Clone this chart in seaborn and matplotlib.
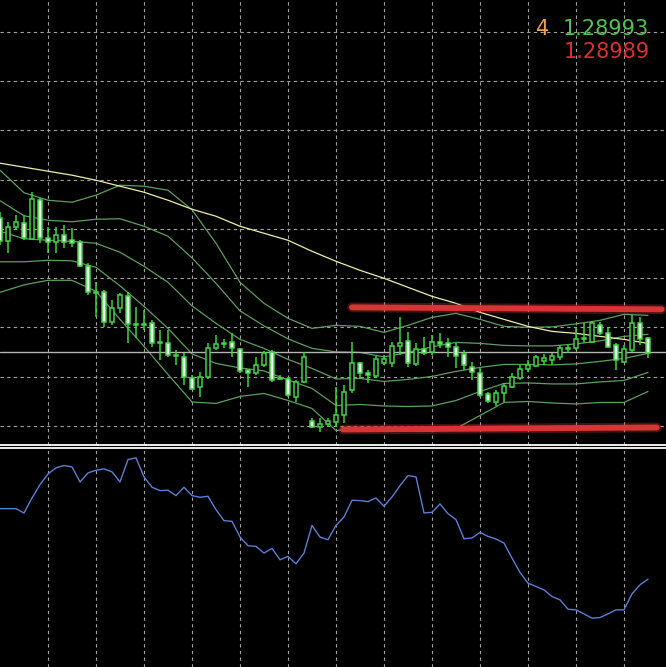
import matplotlib
matplotlib.use('Agg')
import matplotlib.pyplot as plt
import numpy as np
import pandas as pd
import seaborn as sns

# candle data, prices in points (1 point = 0.00001)
opens = [129264, 129218, 129246, 129254, 129222, 129300, 129224, 129216, 129230, 129220,
         129216, 129168, 129116, 129116, 129056, 129084, 129108, 129052, 129052, 129054,
         129016, 129014, 128990, 128986, 128944, 128926, 128946, 129004, 129014, 129016,
         129002, 128960, 128954, 128970, 128996, 128944, 128942, 128906, 128936, 128858,
         128846, 128852, 128856, 128870, 128920, 128974, 128954, 128948, 128974, 128974,
         129008, 129018, 128972, 129002, 128996, 129016, 129014, 129006, 128992, 128966,
         128954, 128912, 128896, 128914, 128926, 128944, 128962, 128968, 128978, 128980,
         128986, 129004, 129004, 129024, 129016, 129050, 129034, 129010, 128976, 129000,
         129054, 129024]
highs = [129276, 129256, 129270, 129270, 129316, 129304, 129246, 129246, 129250, 129244,
         129220, 129174, 129136, 129120, 129100, 129114, 129116, 129086, 129080, 129060,
         129040, 129040, 129000, 128994, 128950, 128956, 129014, 129030, 129022, 129034,
         129004, 128960, 128986, 128998, 129000, 128950, 128946, 128940, 128996, 128864,
         128864, 128864, 128926, 128930, 129016, 128976, 128960, 128988, 128990, 129016,
         129066, 129036, 129014, 129026, 129030, 129034, 129024, 129014, 129000, 128976,
         128964, 128916, 128920, 128934, 128954, 128970, 128980, 128990, 128992, 128994,
         129010, 129010, 129044, 129054, 129058, 129056, 129046, 129014, 129010, 129070,
         129066, 129026]
lows = [129210, 129194, 129240, 129220, 129220, 129214, 129194, 129194, 129204, 129206,
        129166, 129110, 129066, 129046, 129050, 129074, 129014, 129024, 129040, 129006,
        128980, 128986, 128970, 128930, 128920, 128906, 128942, 129000, 129004, 128986,
        128954, 128926, 128950, 128966, 128936, 128940, 128906, 128896, 128934, 128844,
        128836, 128846, 128846, 128854, 128914, 128944, 128934, 128944, 128970, 128966,
        128990, 128966, 128968, 128990, 128990, 129004, 128986, 128964, 128960, 128940,
        128906, 128894, 128888, 128896, 128924, 128940, 128956, 128966, 128970, 128970,
        128980, 128994, 129000, 129014, 129014, 129030, 129004, 128960, 128974, 128996,
        129010, 128984]
closes = [129218, 129246, 129256, 129224, 129302, 129224, 129216, 129230, 129216, 129214,
          129168, 129116, 129114, 129056, 129084, 129110, 129052, 129050, 129050, 129014,
          129014, 128990, 128988, 128946, 128922, 128946, 129004, 129012, 129012, 129004,
          128958, 128954, 128970, 128994, 128940, 128942, 128910, 128936, 128986, 128846,
          128852, 128858, 128870, 128916, 128974, 128954, 128950, 128982, 128982, 129008,
          129014, 128974, 129002, 128994, 129016, 129012, 129006, 128988, 128970, 128956,
          128910, 128898, 128914, 128928, 128946, 128962, 128970, 128986, 128984, 128988,
          129004, 129002, 129022, 129022, 129054, 129034, 129006, 128980, 129002, 129054,
          129022, 128994]

# indicator lines, read every 3 bars
band_bars = list(range(0, 82, 3))
bb_up2 = [129360, 129315, 129300, 129296, 129310, 129330, 129328, 129320, 129281, 129214,
          129136, 129094, 129064, 129044, 129050, 129048, 129036, 129050, 129066, 129074,
          129062, 129048, 129046, 129047, 129053, 129060, 129072, 129070]
bb_up1 = [129299, 129269, 129260, 129257, 129262, 129263, 129248, 129228, 129185, 129134,
          129079, 129049, 129023, 129004, 128997, 128996, 128987, 128996, 129007, 129016,
          129014, 129010, 129009, 129009, 129013, 129019, 129028, 129032]
bb_mid = [129238, 129223, 129220, 129218, 129214, 129196, 129168, 129136, 129089, 129054,
          129022, 129004, 128982, 128964, 128943, 128944, 128938, 128942, 128948, 128958,
          128966, 128972, 128972, 128971, 128973, 128978, 128984, 128994]
bb_lo1 = [129177, 129177, 129180, 129179, 129166, 129129, 129088, 129044, 128993, 128974,
          128965, 128959, 128941, 128924, 128890, 128892, 128889, 128888, 128889, 128900,
          128918, 128934, 128935, 128933, 128933, 128937, 128940, 128956]
bb_lo2 = [129116, 129131, 129140, 129140, 129118, 129062, 129008, 128952, 128897, 128894,
          128908, 128914, 128900, 128884, 128840, 128842, 128842, 128840, 128838, 128844,
          128870, 128896, 128898, 128895, 128893, 128896, 128896, 128918]
ma_slow = [129374, 129366, 129358, 129350, 129340, 129328, 129316, 129300, 129282, 129268,
           129248, 129234, 129220, 129198, 129178, 129160, 129144, 129126, 129108, 129094,
           129076, 129062, 129048, 129038, 129034, 129028, 129022, 129014]

# lower window oscillator
osc = [47.4, 47.4, 47.4, 46.1, 50.6, 54.6, 57.8, 59.6, 60.3, 59.9,
       55.4, 58.1, 58.9, 59.3, 58.4, 55.4, 62.1, 62.6, 56.9, 53.8,
       52.8, 52.9, 51.3, 53.8, 51.3, 50.8, 51.1, 47.1, 43.8, 43.6,
       38.9, 36.3, 36.1, 34.1, 35.5, 32.1, 33.1, 30.9, 34.1, 42.4,
       38.9, 38.1, 42.4, 44.9, 49.9, 49.8, 49.5, 50.6, 48.1, 50.9,
       54.3, 57.3, 56.9, 46.1, 46.3, 48.8, 45.9, 44.1, 38.4, 38.6,
       40.3, 39.1, 38.3, 37.1, 32.6, 28.3, 25.1, 24.1, 23.1, 21.1,
       20.1, 17.3, 17.1, 15.9, 14.6, 14.8, 15.9, 17.1, 17.1, 21.9,
       24.6, 26.3]

# drawn objects
price_line = 128996
res_line = ([44.0, 82.7], [129086, 129082])
sup_line = ([42.9, 82.1], [128842, 128846])
grid_levels = [129636, 129538, 129440, 129341, 129243, 129144, 129046, 128947, 128849]
grid_bars = list(range(6, 82, 6))

PT = 1e5
green = '#3ed63e'
band_col = '#5e9e5e'

sns.set_style('dark', rc={'axes.facecolor': 'black', 'figure.facecolor': 'black'})
plt.rcParams['font.family'] = ['DejaVu Sans']

fig = plt.figure(figsize=(6.66, 6.67), dpi=100)
ax = fig.add_axes([0, 1 - 444.5 / 667, 1, 444.5 / 667])
ax2 = fig.add_axes([0, 0, 1, 219.5 / 667])

for a in (ax, ax2):
    a.set_facecolor('black')
    a.set_xlim(0, 83.25)
    a.set_xticks(grid_bars)
    a.xaxis.grid(True, color='#a0a0a0', linestyle=(0, (3, 3)), linewidth=0.8)
    a.tick_params(length=0, labelleft=False, labelbottom=False)
    a.set_axisbelow(True)
    for s in a.spines.values():
        s.set_visible(False)

ax.set_ylim(128812 / PT, 129700 / PT)
ax.set_yticks(np.array(grid_levels) / PT)
ax.yaxis.grid(True, color='#a0a0a0', linestyle=(0, (3, 3)), linewidth=0.8)
ax.spines['bottom'].set_visible(True)
ax.spines['bottom'].set_color('white')
ax.spines['bottom'].set_linewidth(1.3)
ax2.set_ylim(0, 65.7)
ax2.yaxis.grid(False)
ax2.spines['top'].set_visible(True)
ax2.spines['top'].set_color('white')
ax2.spines['top'].set_linewidth(1.3)

# bands + slow MA
lines = pd.DataFrame({'bar': band_bars * 6,
                      'price': np.array(bb_up2 + bb_up1 + bb_mid + bb_lo1 + bb_lo2 + ma_slow) / PT,
                      'line': sum([[n] * len(band_bars) for n in ['up2', 'up1', 'mid', 'lo1', 'lo2', 'ma']], [])})
pal = {'up2': band_col, 'up1': band_col, 'mid': band_col, 'lo1': band_col, 'lo2': band_col, 'ma': '#eeeeaa'}
sns.lineplot(data=lines, x='bar', y='price', hue='line', palette=pal, legend=False,
             linewidth=0.9, ax=ax, zorder=2)

ax.axhline(price_line / PT, color='#b4b4b4', linewidth=1, zorder=2.5)

# candles
bars = np.arange(len(opens))
o = np.array(opens) / PT
c = np.array(closes) / PT
h = np.array(highs) / PT
l = np.array(lows) / PT
bull = c > o
body_lo = np.minimum(o, c)
body_h = np.maximum(np.abs(c - o), 0.000006)
ax.vlines(bars, l, h, color=green, linewidth=1.1, zorder=3)
ax.bar(bars[bull], body_h[bull], bottom=body_lo[bull], width=0.62, color='black',
       edgecolor=green, linewidth=1.1, zorder=4)
ax.bar(bars[~bull], body_h[~bull], bottom=body_lo[~bull], width=0.62, color='#eefcee',
       edgecolor=green, linewidth=1.1, zorder=4)

# red trend lines
for xs, ys in (res_line, sup_line):
    ax.plot(xs, np.array(ys) / PT, color='#e04040', linewidth=7, alpha=0.3,
            solid_capstyle='round', zorder=5)
    ax.plot(xs, np.array(ys) / PT, color='#d83434', linewidth=4.2,
            solid_capstyle='round', zorder=6)

# labels top right
ax.text(0.824, 0.935, '4', transform=ax.transAxes, color='#f0a050', fontsize=15,
        ha='right', va='center')
ax.text(0.974, 0.935, '1.28993', transform=ax.transAxes, color='#4fc34f', fontsize=15,
        ha='right', va='center')
ax.text(0.976, 0.883, '1.28989', transform=ax.transAxes, color='#d83030', fontsize=15,
        ha='right', va='center')

# oscillator window
sns.lineplot(x=bars, y=osc, ax=ax2, color='#5c7ed8', linewidth=1)

fig.savefig('out.png', dpi=100, facecolor='black')
